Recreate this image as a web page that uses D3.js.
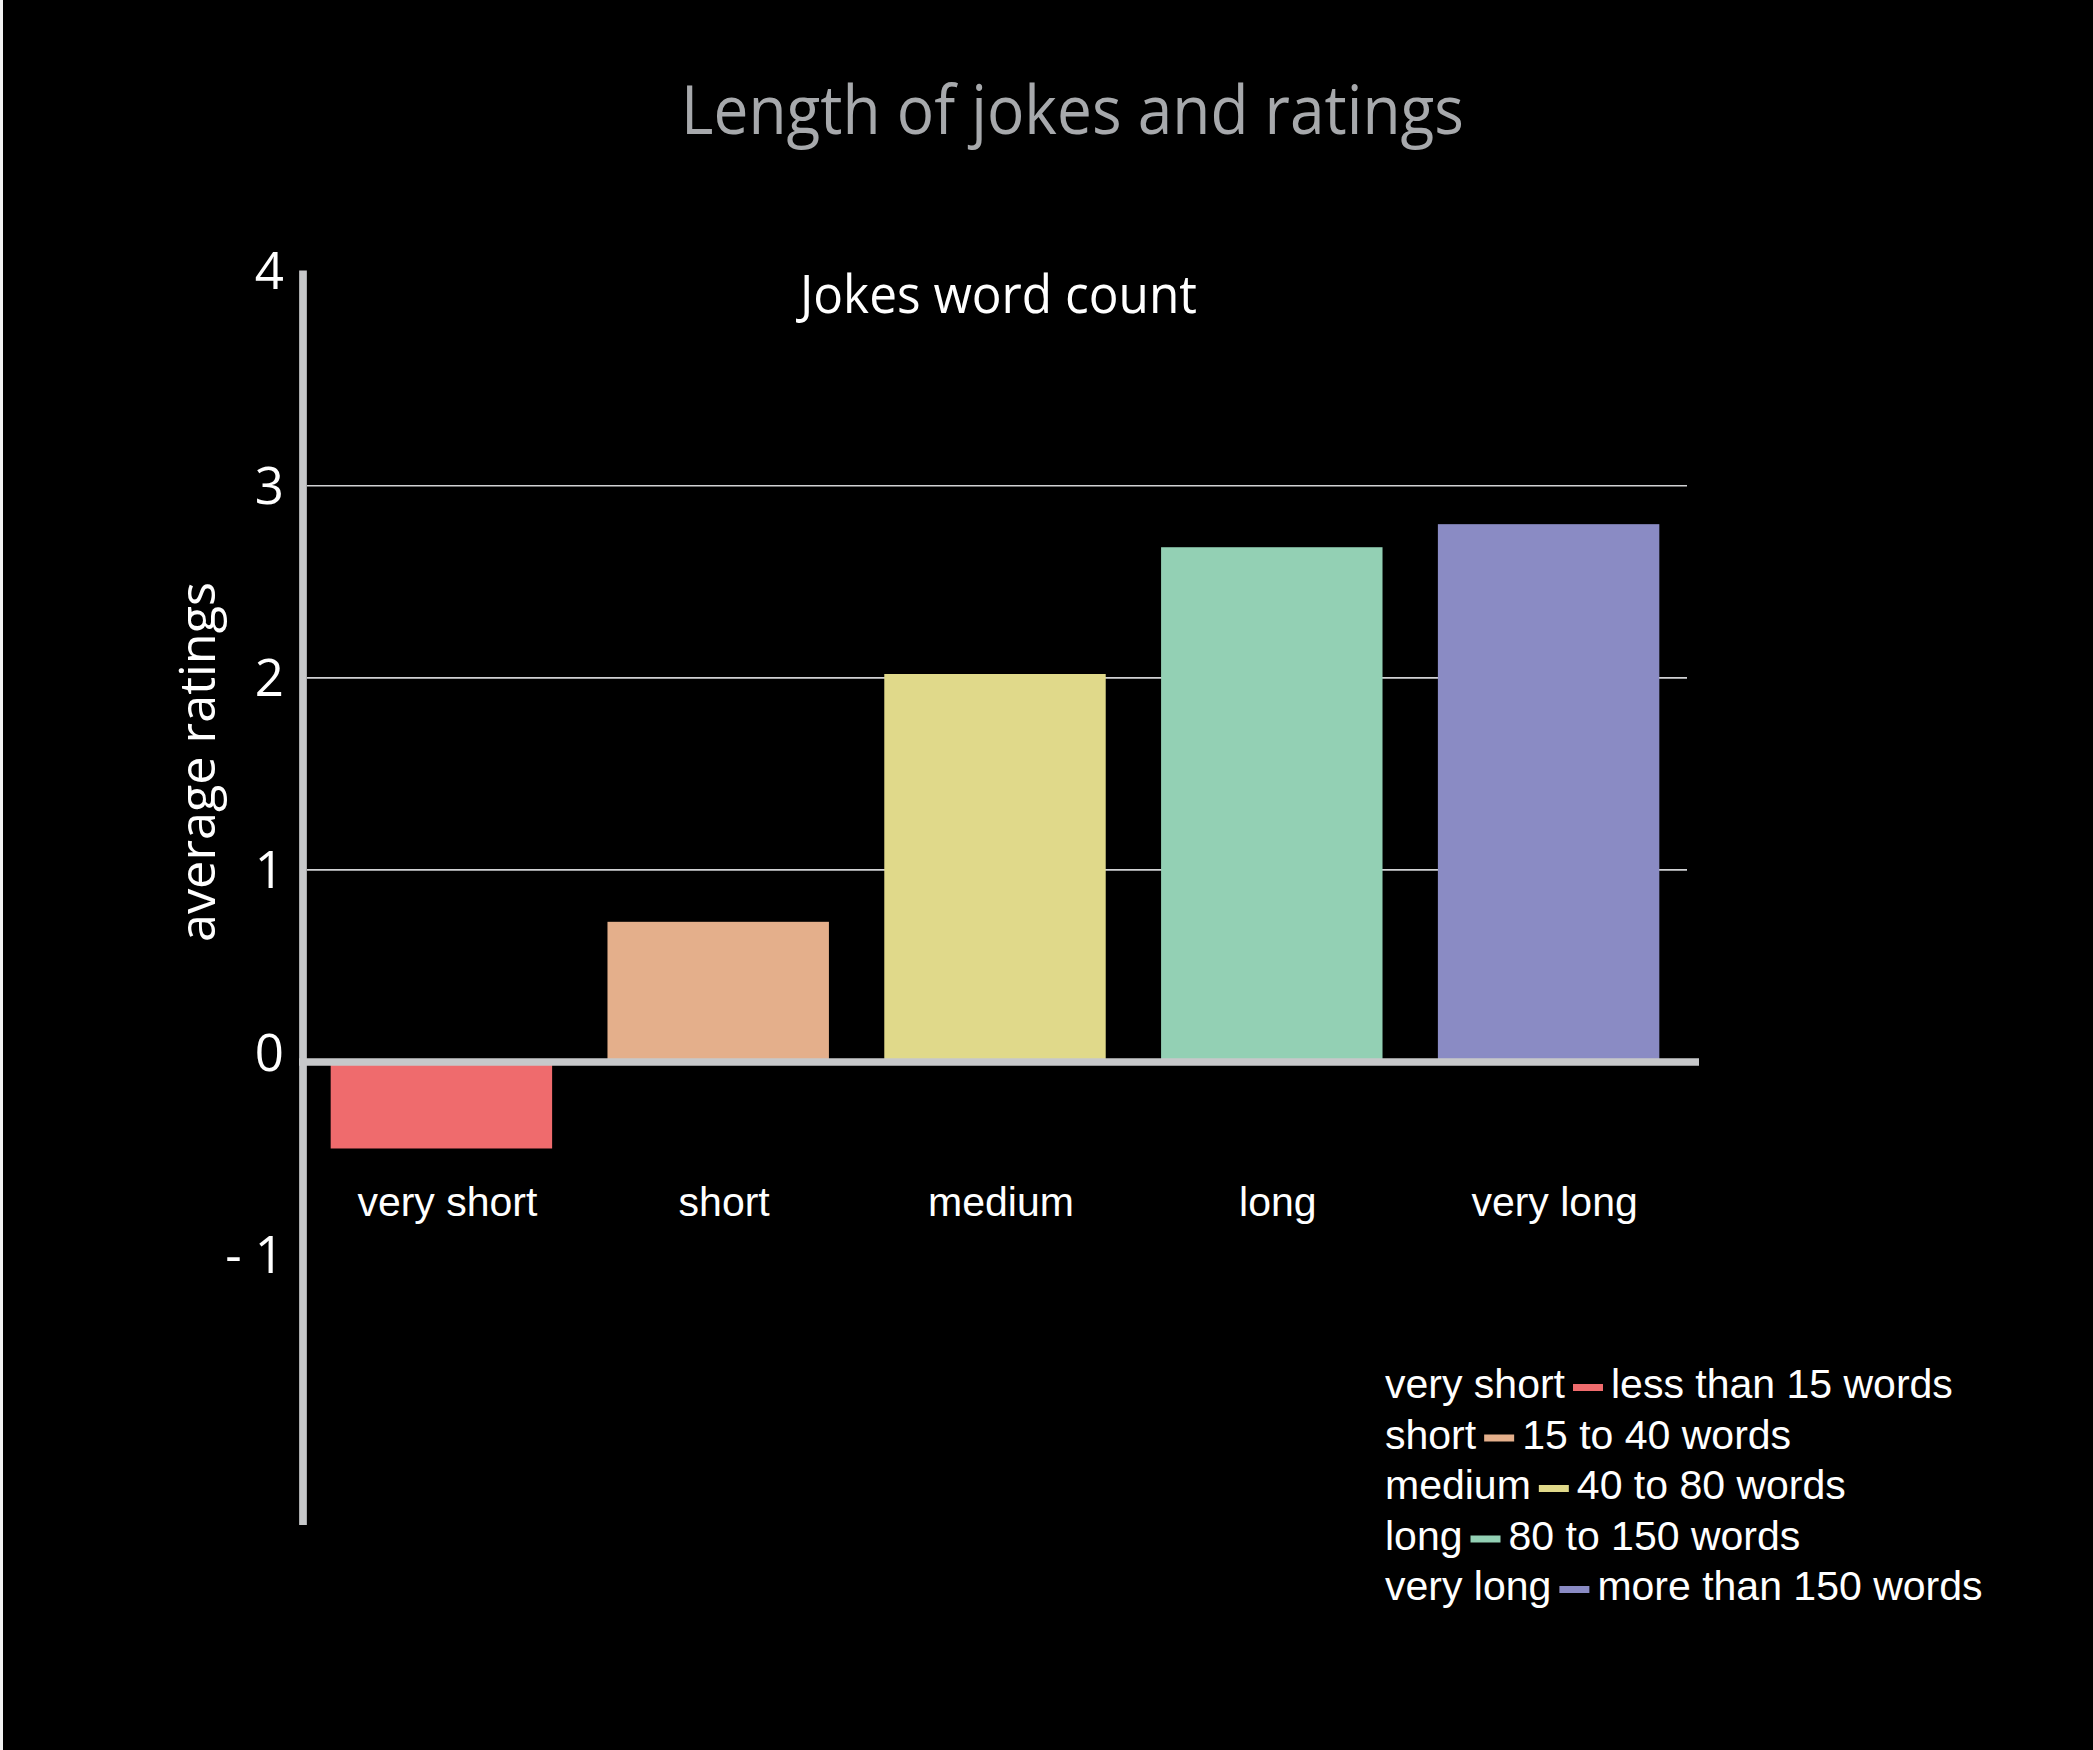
<!DOCTYPE html>
<html>
<head>
<meta charset="utf-8">
<script src="https://cdn.jsdelivr.net/npm/d3@7"></script>
<style>
  html, body { margin: 0; padding: 0; background: #000; }
  svg { display: block; }
</style>
</head>
<body>
<svg id="chart" width="2093" height="1750"></svg>
<script>
// ---- data ----
const categories = ["very short", "short", "medium", "long", "very long"];
const ratings = [-0.45, 0.73, 2.02, 2.68, 2.80];
const ranges = ["less than 15 words", "15 to 40 words", "40 to 80 words", "80 to 150 words", "more than 150 words"];
const colors = ["#ef6b6d", "#e4af8b", "#e0d98a", "#93d0b4", "#8a8bc4"];
const gridValues = [1, 2, 3];
const tickValues = [4, 3, 2, 1, 0, -1];
const tickLabels = ["4", "3", "2", "1", "0", "- 1"];
const yDomain = [-2.41, 4.12];
const title = "Length of jokes and ratings";
const subtitle = "Jokes word count";
const yTitle = "average ratings";

// ---- layout ----
const W = 2093, H = 1750;
const axisX = 303;
const svg = d3.select("#chart");
svg.append("rect").attr("width", W).attr("height", H).attr("fill", "#000");
svg.append("rect").attr("x", 0).attr("y", 0).attr("width", 3).attr("height", H).attr("fill", "#f2f2f2");

const y = d3.scaleLinear().domain(yDomain).range([1525, 270.6]);
const x = d3.scaleBand().domain(categories).range([axisX, 1687]).paddingInner(0.2).paddingOuter(0.1);

const humanist = "'Open Sans', 'Noto Sans', sans-serif";
const arial = "'Liberation Sans', Arial, sans-serif";

// title
svg.append("text").attr("x", 681).attr("y", 134)
  .attr("font-family", humanist).attr("font-size", 68).attr("fill", "#a7a9ac")
  .attr("textLength", 783).attr("lengthAdjust", "spacingAndGlyphs")
  .text(title);

// subtitle
svg.append("text").attr("x", 800).attr("y", 313)
  .attr("font-family", humanist).attr("font-size", 53).attr("fill", "#ffffff")
  .attr("textLength", 397).attr("lengthAdjust", "spacingAndGlyphs")
  .text(subtitle);

// y axis title
svg.append("text")
  .attr("transform", "translate(215,942) rotate(-90)")
  .attr("font-family", humanist).attr("font-size", 49).attr("fill", "#ffffff")
  .attr("textLength", 360).attr("lengthAdjust", "spacingAndGlyphs")
  .text(yTitle);

// gridlines
svg.append("g").selectAll("line").data(gridValues).join("line")
  .attr("x1", axisX + 4).attr("x2", x.range()[1])
  .attr("y1", d => y(d)).attr("y2", d => y(d))
  .attr("stroke", "#d1d2d4").attr("stroke-width", 1.7);

// bars
svg.append("g").selectAll("rect").data(categories).join("rect")
  .attr("x", d => x(d))
  .attr("width", x.bandwidth())
  .attr("y", (d, i) => y(Math.max(0, ratings[i])))
  .attr("height", (d, i) => Math.abs(y(ratings[i]) - y(0)))
  .attr("fill", (d, i) => colors[i]);

// axes
svg.append("line").attr("x1", axisX).attr("x2", axisX)
  .attr("y1", y(yDomain[1])).attr("y2", y(yDomain[0]))
  .attr("stroke", "#c7c8ca").attr("stroke-width", 7.7);
svg.append("line").attr("x1", axisX - 4).attr("x2", 1699)
  .attr("y1", y(0)).attr("y2", y(0))
  .attr("stroke", "#c7c8ca").attr("stroke-width", 7.5);

// tick labels
svg.append("g").selectAll("text").data(tickValues).join("text")
  .attr("x", 284)
  .attr("y", d => (d === 4 ? y(yDomain[1]) : y(d)) + (d === 0 ? -9 : 0))
  .attr("dy", "0.36em")
  .attr("text-anchor", "end")
  .attr("font-family", humanist).attr("font-size", 51).attr("fill", "#ffffff")
  .text((d, i) => tickLabels[i]);

// category labels
svg.append("g").selectAll("text").data(categories).join("text")
  .attr("x", d => x(d) + x.bandwidth() / 2 + 6)
  .attr("y", 1216)
  .attr("text-anchor", "middle")
  .attr("font-family", arial).attr("font-size", 41).attr("fill", "#ffffff")
  .text(d => d);

// legend
const legend = svg.append("g");
categories.forEach((c, i) => {
  const by = 1398 + i * 50.5;
  const t = legend.append("text").attr("x", 1385).attr("y", by)
    .attr("font-family", arial).attr("font-size", 41).attr("fill", "#ffffff").text(c);
  const end = 1385 + t.node().getComputedTextLength();
  legend.append("rect").attr("x", end + 8).attr("y", by - 14).attr("width", 30).attr("height", 7)
    .attr("fill", colors[i]);
  legend.append("text").attr("x", end + 46).attr("y", by)
    .attr("font-family", arial).attr("font-size", 41).attr("fill", "#ffffff").text(ranges[i]);
});
</script>
</body>
</html>
